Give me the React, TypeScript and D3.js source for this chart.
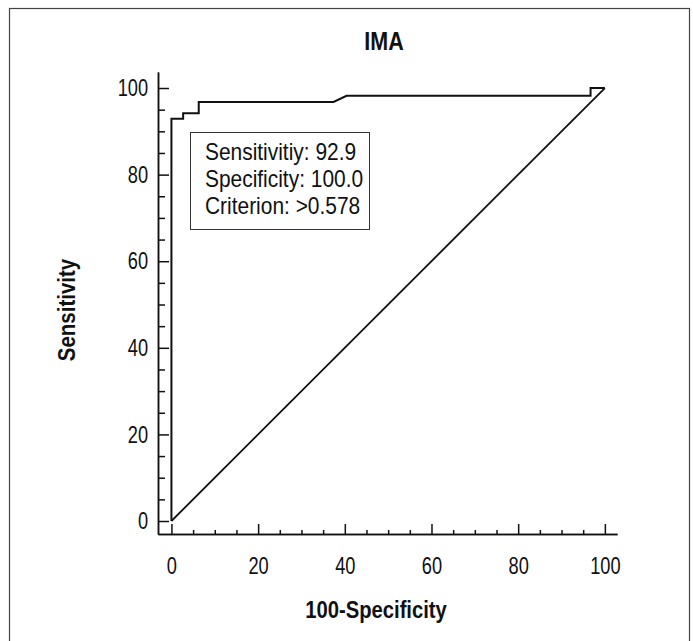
import * as d3 from 'd3';
import React, { useEffect, useRef } from 'react';

// ROC curve points (100-Specificity, Sensitivity)
const fprValues = [0, 0, 2.7, 2.7, 6.3, 6.3, 37.4, 40.4, 96.7, 96.7, 100];
const tprValues = [0, 92.9, 92.9, 94.2, 94.2, 96.8, 96.8, 98.2, 98.2, 100, 100];
const diagonal = [0, 100];

const majorTicks = [0, 20, 40, 60, 80, 100];
const minorTicks = [5, 10, 15, 25, 30, 35, 45, 50, 55, 65, 70, 75, 85, 90, 95];

const title = 'IMA';
const xLabel = '100-Specificity';
const yLabel = 'Sensitivity';
const legendLines = ['Sensitivitiy: 92.9', 'Specificity: 100.0', 'Criterion: >0.578'];

// narrow Helvetica look: Liberation Sans squeezed horizontally
const FONT = '"Liberation Sans", Arial, sans-serif';

const App = () => {
  const ref = useRef<SVGSVGElement>(null);

  useEffect(() => {
    const svg = d3.select(ref.current);
    svg.selectAll('*').remove();

    // outer frame
    svg.append('rect')
      .attr('x', 9.5).attr('y', 8.5)
      .attr('width', 680).attr('height', 660)
      .attr('fill', 'none')
      .attr('stroke', '#444')
      .attr('stroke-width', 1.2);

    const x = d3.scaleLinear().domain([-3.1, 102.8]).range([158, 617]);
    const y = d3.scaleLinear().domain([-3, 103.7]).range([534, 72]);

    // x axis (minor + major)
    svg.append('g').attr('transform', 'translate(0,534)')
      .call(d3.axisBottom(x).tickValues(minorTicks).tickSize(-4).tickSizeOuter(0).tickFormat(() => ''));
    svg.append('g').attr('class', 'major').attr('transform', 'translate(0,534)')
      .call(d3.axisBottom(x).tickValues(majorTicks).tickSize(-10).tickSizeOuter(0).tickPadding(23));

    // y axis (minor + major)
    svg.append('g').attr('transform', 'translate(158,0)')
      .call(d3.axisLeft(y).tickValues(minorTicks).tickSize(-7).tickSizeOuter(0).tickFormat(() => ''));
    svg.append('g').attr('class', 'major').attr('transform', 'translate(158,0)')
      .call(d3.axisLeft(y).tickValues(majorTicks).tickSize(-11).tickSizeOuter(0).tickPadding(13));

    svg.selectAll('.domain, .tick line').attr('stroke', '#111').attr('stroke-width', 1.5);
    svg.selectAll('.tick text')
      .attr('font-family', FONT)
      .attr('font-size', 24)
      .attr('transform', 'scale(0.76,1)')
      .attr('fill', '#111');

    // diagonal
    svg.append('line')
      .attr('x1', x(diagonal[0])).attr('y1', y(diagonal[0]))
      .attr('x2', x(diagonal[1])).attr('y2', y(diagonal[1]))
      .attr('stroke', '#111')
      .attr('stroke-width', 1.8);

    // ROC curve
    const pts = fprValues.map((v, i) => [v, tprValues[i]] as [number, number]);
    svg.append('path')
      .datum(pts)
      .attr('fill', 'none')
      .attr('stroke', '#111')
      .attr('stroke-width', 2)
      .attr('d', d3.line<[number, number]>().x(d => x(d[0])).y(d => y(d[1])));

    // legend box
    svg.append('rect')
      .attr('x', 190.5).attr('y', 132.5)
      .attr('width', 179).attr('height', 97)
      .attr('fill', 'white')
      .attr('stroke', '#333')
      .attr('stroke-width', 1);

    svg.append('g')
      .selectAll('text')
      .data(legendLines)
      .join('text')
      .attr('transform', (d, i) => `translate(205,${160 + i * 27}) scale(0.91,1)`)
      .attr('font-family', FONT)
      .attr('font-size', 23)
      .attr('fill', '#111')
      .text(d => d);

    // title
    svg.append('text')
      .attr('transform', 'translate(384,50) scale(0.86,1)')
      .attr('text-anchor', 'middle')
      .attr('font-family', FONT)
      .attr('font-weight', 'bold')
      .attr('font-size', 25)
      .attr('fill', '#111')
      .text(title);

    // axis titles
    svg.append('text')
      .attr('transform', 'translate(376,618) scale(0.88,1)')
      .attr('text-anchor', 'middle')
      .attr('font-family', FONT)
      .attr('font-weight', 'bold')
      .attr('font-size', 23)
      .attr('fill', '#111')
      .text(xLabel);

    svg.append('text')
      .attr('transform', 'translate(75,310) rotate(-90) scale(0.89,1)')
      .attr('text-anchor', 'middle')
      .attr('font-family', FONT)
      .attr('font-weight', 'bold')
      .attr('font-size', 23)
      .attr('fill', '#111')
      .text(yLabel);
  }, []);

  return (
    <div style={{ position: 'absolute', left: 0, top: 0 }}>
      <svg ref={ref} width={693} height={641} style={{ display: 'block', background: 'white' }}></svg>
    </div>
  );
};

export default App;
